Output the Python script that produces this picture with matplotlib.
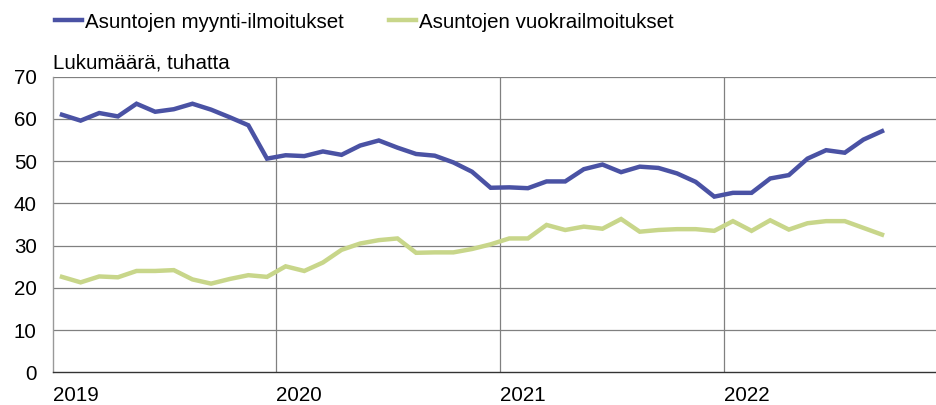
import matplotlib
matplotlib.use("Agg")
import matplotlib.pyplot as plt
from matplotlib.lines import Line2D

plt.rcParams['font.family'] = ['Liberation Sans', 'DejaVu Sans']

years = ["2019", "2020", "2021", "2022"]
series_names = ["Asuntojen myynti-ilmoitukset", "Asuntojen vuokrailmoitukset"]
y_label = "Lukumäärä, tuhatta"

myynti = [61.0, 59.6, 61.4, 60.6, 63.6, 61.7, 62.3, 63.6, 62.2, 60.4, 58.5, 50.6,
          51.4, 51.2, 52.3, 51.5, 53.7, 54.9, 53.2, 51.7, 51.3, 49.7, 47.5, 43.7,
          43.8, 43.6, 45.2, 45.2, 48.1, 49.2, 47.4, 48.7, 48.4, 47.1, 45.1, 41.6,
          42.5, 42.5, 45.9, 46.7, 50.6, 52.6, 52.0, 55.1, 57.1]
vuokra = [22.6, 21.3, 22.7, 22.5, 24.0, 24.0, 24.2, 22.0, 21.0, 22.1, 23.0, 22.6,
          25.1, 24.0, 26.0, 29.0, 30.5, 31.3, 31.7, 28.3, 28.4, 28.4, 29.2, 30.3,
          31.7, 31.7, 34.9, 33.7, 34.5, 34.0, 36.3, 33.3, 33.7, 33.9, 33.9, 33.5,
          35.8, 33.5, 36.0, 33.8, 35.3, 35.8, 35.8, 34.2, 32.6]

blue = '#4A52A4'
green = '#C8D68A'
FS = 14.8

fig = plt.figure(figsize=(9.37, 4.05), dpi=100)
ax = fig.add_axes([0.0562, 0.0807, 1 - 0.0562, 0.8106 - 0.0807])

x = [i + 0.5 for i in range(len(myynti))]
ax.set_xlim(0, 47.45)
ax.set_ylim(0, 70)

for v in range(10, 71, 10):
    ax.axhline(v, color='#808080', lw=0.9, zorder=1)
for k in range(1, 4):
    ax.axvline(12 * k, color='#808080', lw=0.9, zorder=1)

ax.plot(x, vuokra, color=green, lw=3.2, solid_joinstyle='miter', zorder=3)
ax.plot(x, myynti, color=blue, lw=3.2, solid_joinstyle='miter', zorder=4)

for s in ['top', 'right']:
    ax.spines[s].set_visible(False)
ax.spines['left'].set_color('#999999')
ax.spines['bottom'].set_color('#333333')
ax.spines['left'].set_linewidth(1.0)
ax.spines['bottom'].set_linewidth(1.0)

ax.set_yticks(range(0, 71, 10))
ax.set_yticklabels([str(v) for v in range(0, 71, 10)], fontsize=FS)
ax.tick_params(axis='y', length=0, pad=11.5)
ax.set_xticks([12 * k for k in range(4)])
ax.set_xticklabels(years, fontsize=FS, ha='left')
ax.tick_params(axis='x', length=0, pad=9.5)

fig.text(53 / 937, 1 - 63 / 405, y_label, fontsize=FS, ha='left', va='center')

handles = [Line2D([], [], color=blue, lw=3.2), Line2D([], [], color=green, lw=3.2)]
fig.legend(handles, series_names, loc='center left', bbox_to_anchor=(55 / 937, 1 - 22 / 405),
           ncol=2, frameon=False, fontsize=FS, handlelength=1.3, handletextpad=0.15,
           columnspacing=2.2, borderaxespad=0, borderpad=0)

fig.savefig('out.png', dpi=100)
